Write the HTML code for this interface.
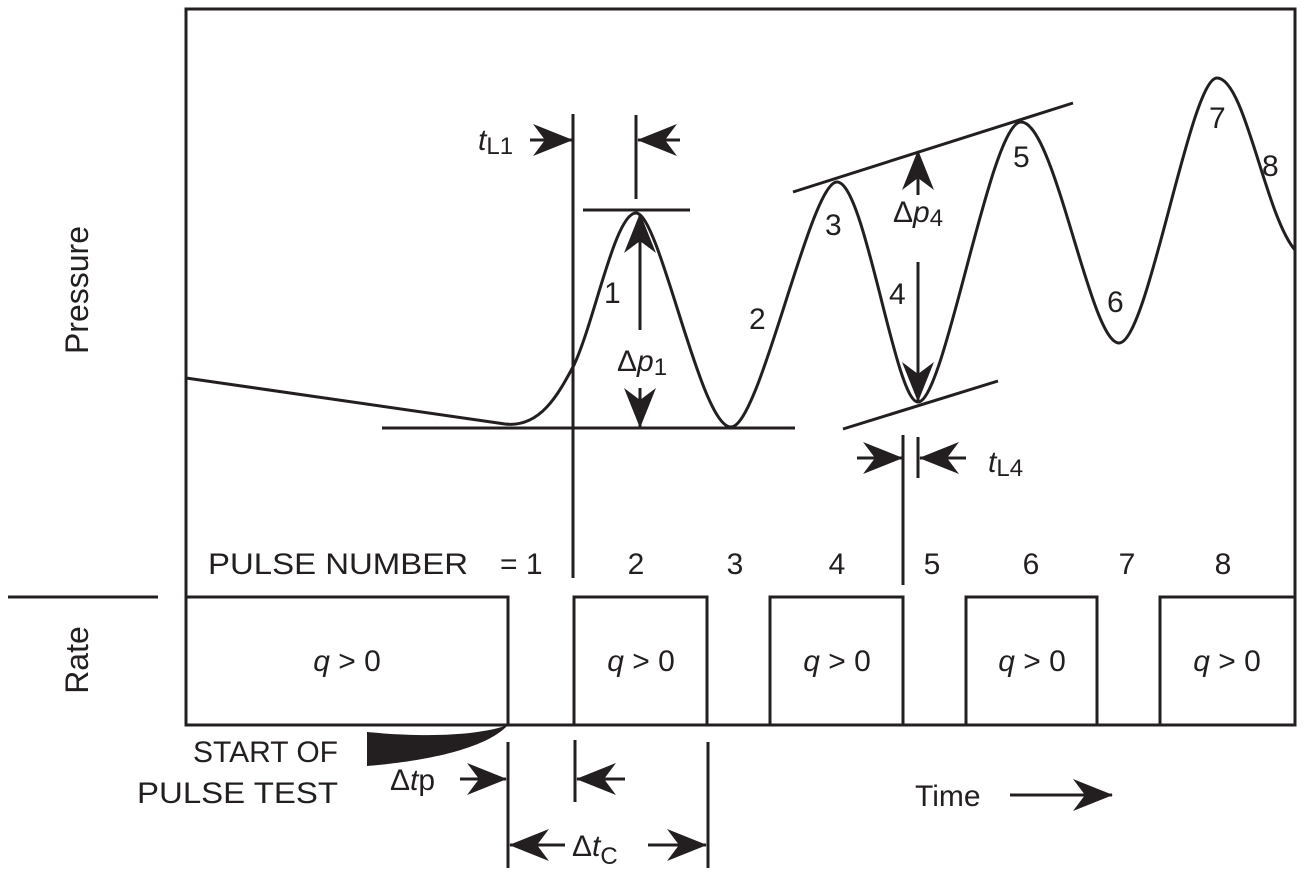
<!DOCTYPE html>
<html><head><style>body{margin:0;background:#fff}svg{display:block}text{font-family:"Liberation Sans",Arial,sans-serif;fill:#231f20}</style></head>
<body>
<svg width="1307" height="880" viewBox="0 0 1307 880" xmlns="http://www.w3.org/2000/svg">
<defs>
<marker id="a" viewBox="0 0 40 32" refX="39" refY="16" markerWidth="40" markerHeight="32" markerUnits="userSpaceOnUse" orient="auto">
<path d="M0,0 L40,16 L0,32 L12,16 Z" fill="#231f20"/>
</marker>
</defs>
<g stroke="#231f20" stroke-width="3" fill="none">
<path d="M186,725 V9 H1295 V725 Z"/>
<line x1="8" y1="597" x2="158" y2="597"/>
<path d="M186,597 H508 V725"/>
<path d="M574,725 V597 H707 V725"/>
<path d="M770,725 V597 H903 V725"/>
<path d="M966,725 V597 H1097 V725"/>
<path d="M1160,725 V597 H1295"/>
<path d="M186,378 L505,424 C540,428 558,395 574,365 C595,320 615,213 636,213 C660,213 700,427 731,427 C760,427 810,182 837,182 C865,182 895,402 918,402 C945,402 990,122 1021,122 C1055,122 1090,343 1119,343 C1148,343 1190,78 1217,78 C1245,78 1265,215 1295,250"/>
<line x1="382" y1="428" x2="795" y2="428"/>
<line x1="583" y1="210" x2="690" y2="210"/>
<line x1="573" y1="114" x2="573" y2="578"/>
<line x1="636" y1="115" x2="636" y2="199"/>
<line x1="793" y1="192" x2="1073" y2="103"/>
<line x1="843" y1="429" x2="998" y2="381"/>
<line x1="903" y1="435" x2="903" y2="585"/>
<line x1="918" y1="437" x2="918" y2="478"/>
<line x1="640" y1="330" x2="640" y2="214" marker-end="url(#a)"/>
<line x1="640" y1="388" x2="640" y2="427" marker-end="url(#a)"/>
<line x1="918" y1="195" x2="918" y2="151" marker-end="url(#a)"/>
<line x1="918" y1="262" x2="918" y2="401" marker-end="url(#a)"/>
<line x1="530" y1="140" x2="572" y2="140" marker-end="url(#a)"/>
<line x1="680" y1="140" x2="638" y2="140" marker-end="url(#a)"/>
<line x1="857" y1="458" x2="902" y2="458" marker-end="url(#a)"/>
<line x1="966" y1="458" x2="920" y2="458" marker-end="url(#a)"/>
<line x1="508" y1="742" x2="508" y2="868"/>
<line x1="575" y1="740" x2="575" y2="802"/>
<line x1="708" y1="742" x2="708" y2="868"/>
<line x1="460" y1="779" x2="506" y2="779" marker-end="url(#a)"/>
<line x1="625" y1="779" x2="577" y2="779" marker-end="url(#a)"/>
<line x1="565" y1="845" x2="510" y2="845" marker-end="url(#a)"/>
<line x1="648" y1="845" x2="706" y2="845" marker-end="url(#a)"/>
<line x1="1010" y1="795" x2="1112" y2="795" marker-end="url(#a)"/>
</g>
<path d="M367,732 C430,738 480,735 508,725 C490,745 440,760 367,766 Z" fill="#231f20"/>
<g font-size="32">
<text x="88" y="290" transform="rotate(-90 88 290)" text-anchor="middle">Pressure</text>
<text x="88" y="660" transform="rotate(-90 88 660)" text-anchor="middle">Rate</text>
<text x="208" y="574" textLength="260" lengthAdjust="spacingAndGlyphs" font-size="30">PULSE NUMBER</text>
<text x="500" y="574" font-size="30">= 1</text>
<g font-size="30" text-anchor="middle">
<text x="636" y="574">2</text>
<text x="735" y="574">3</text>
<text x="837" y="574">4</text>
<text x="932" y="574">5</text>
<text x="1031" y="574">6</text>
<text x="1127" y="574">7</text>
<text x="1223" y="574">8</text>
</g>
<g text-anchor="middle" font-size="30">
<text x="347" y="671"><tspan font-style="italic">q</tspan> &gt; 0</text>
<text x="641" y="671"><tspan font-style="italic">q</tspan> &gt; 0</text>
<text x="837" y="671"><tspan font-style="italic">q</tspan> &gt; 0</text>
<text x="1032" y="671"><tspan font-style="italic">q</tspan> &gt; 0</text>
<text x="1227" y="671"><tspan font-style="italic">q</tspan> &gt; 0</text>
</g>
<text x="338" y="762" text-anchor="end" font-size="30">START OF</text>
<text x="338" y="803" text-anchor="end" textLength="201" lengthAdjust="spacingAndGlyphs" font-size="30">PULSE TEST</text>
<text x="390" y="790" font-size="30">Δ<tspan font-style="italic">t</tspan>p</text>
<text x="572" y="856" font-size="30">Δ<tspan font-style="italic">t</tspan><tspan font-size="24" dy="8">C</tspan></text>
<text x="915" y="806" font-size="30">Time</text>
<text x="478" y="150" font-size="30"><tspan font-style="italic">t</tspan><tspan font-size="24" dy="4">L1</tspan></text>
<text x="988" y="472" font-size="30"><tspan font-style="italic">t</tspan><tspan font-size="24" dy="4">L4</tspan></text>
<text x="617" y="371" font-size="30">Δ<tspan font-style="italic">p</tspan><tspan font-size="24" dy="4">1</tspan></text>
<text x="893" y="222" font-size="30">Δ<tspan font-style="italic">p</tspan><tspan font-size="24" dy="4">4</tspan></text>
<g font-size="30">
<text x="604" y="303">1</text>
<text x="749" y="329">2</text>
<text x="825" y="235">3</text>
<text x="889" y="304">4</text>
<text x="1013" y="167">5</text>
<text x="1107" y="312">6</text>
<text x="1209" y="128">7</text>
<text x="1262" y="176">8</text>
</g>
</g>
</svg>
</body></html>
